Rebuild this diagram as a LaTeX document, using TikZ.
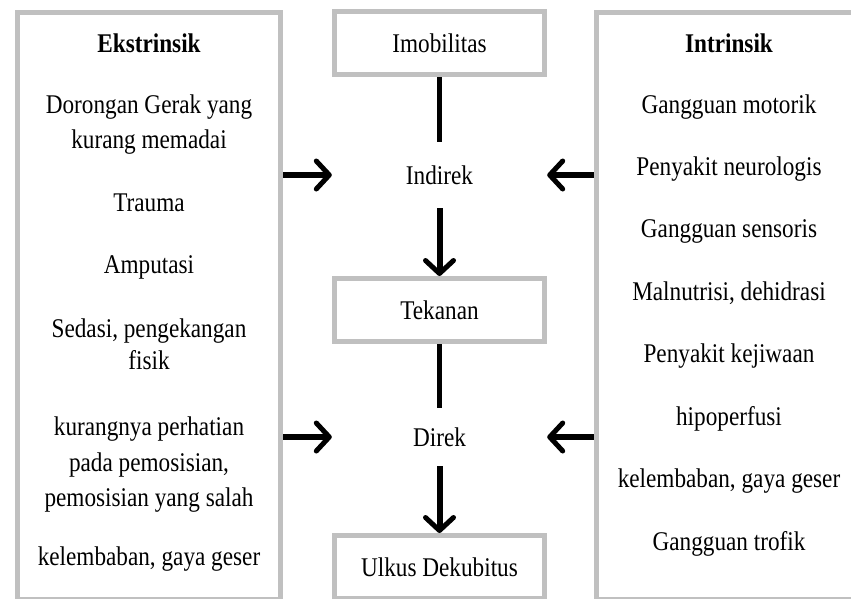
\documentclass[tikz,border=0pt]{standalone}
\usepackage{fontspec}
\setmainfont{Liberation Serif}[FakeStretch=0.86]
\usetikzlibrary{arrows.meta}
\definecolor{boxgray}{RGB}{192,192,192}

\begin{document}
\begin{tikzpicture}[x=1pt,y=-1pt,
    txt/.style={font=\fontsize{27}{32}\selectfont,anchor=base,inner sep=0pt},
    frame/.style={draw=boxgray,line width=5pt,inner sep=0pt},
    mid/.style={frame,minimum width=210pt,minimum height=63pt,font=\fontsize{27}{32}\selectfont,text height=18pt,text depth=0pt},
    gap/.style={minimum width=215pt,inner sep=0pt,font=\fontsize{27}{32}\selectfont,text height=18pt,text depth=0pt},
    link/.style={line width=5pt},
    arr/.style={-{Straight Barb[length=13pt,width=28pt,line width=5pt,round]},line width=6pt}]
    \clip(0,0)rectangle(851,598);
    \fill[white](0,0)rectangle(851,598);
    % side boxes
    \node[frame,minimum width=263pt,minimum height=587pt](ekstr)at(149,305.5){};
    \node[frame,minimum width=283.5pt,minimum height=587pt](intr)at(738,305.5){};
    % middle column
    \node[mid](imob)at(439.5,43){Imobilitas};
    \node[gap,minimum height=66pt](indirek)at(439.5,175){Indirek};
    \node[mid](tekanan)at(439.5,310){Tekanan};
    \node[gap,minimum height=58pt](direk)at(439.5,437){Direk};
    \node[mid](ulkus)at(439.5,567){Ulkus Dekubitus};
    \draw[link](imob.south)--(indirek.north);
    \draw[arr](indirek.south)--(tekanan.north);
    \draw[link](tekanan.south)--(direk.north);
    \draw[arr](direk.south)--(ulkus.north);
    \draw[arr](ekstr.east|-indirek.west)--(indirek.west);
    \draw[arr](intr.west|-indirek.east)--(indirek.east);
    \draw[arr](ekstr.east|-direk.west)--(direk.west);
    \draw[arr](intr.west|-direk.east)--(direk.east);
    % ekstrinsik
    \node[txt](e0)at(149,52){\textbf{Ekstrinsik}};
    \node[txt](e1)at(149,113){Dorongan Gerak yang};
    \node[txt](e1b)at(149,148){kurang memadai};
    \node[txt](e2)at(149,211){Trauma};
    \node[txt](e3)at(149,273){Amputasi};
    \node[txt](e4)at(149,337){Sedasi, pengekangan};
    \node[txt](e4b)at(149,369){fisik};
    \node[txt](e5)at(149,435){kurangnya perhatian};
    \node[txt](e5b)at(149,471){pada pemosisian,};
    \node[txt](e5c)at(149,506){pemosisian yang salah};
    \node[txt](e6)at(149,565){kelembaban, gaya geser};
    % intrinsik
    \node[txt](i0)at(729,52){\textbf{Intrinsik}};
    \node[txt](i1)at(729,113){Gangguan motorik};
    \node[txt](i2)at(729,175){Penyakit neurologis};
    \node[txt](i3)at(729,237){Gangguan sensoris};
    \node[txt](i4)at(729,300){Malnutrisi, dehidrasi};
    \node[txt](i5)at(729,362){Penyakit kejiwaan};
    \node[txt](i6)at(729,425){hipoperfusi};
    \node[txt](i7)at(729,487){kelembaban, gaya geser};
    \node[txt](i8)at(729,550){Gangguan trofik};
\end{tikzpicture}
\end{document}
